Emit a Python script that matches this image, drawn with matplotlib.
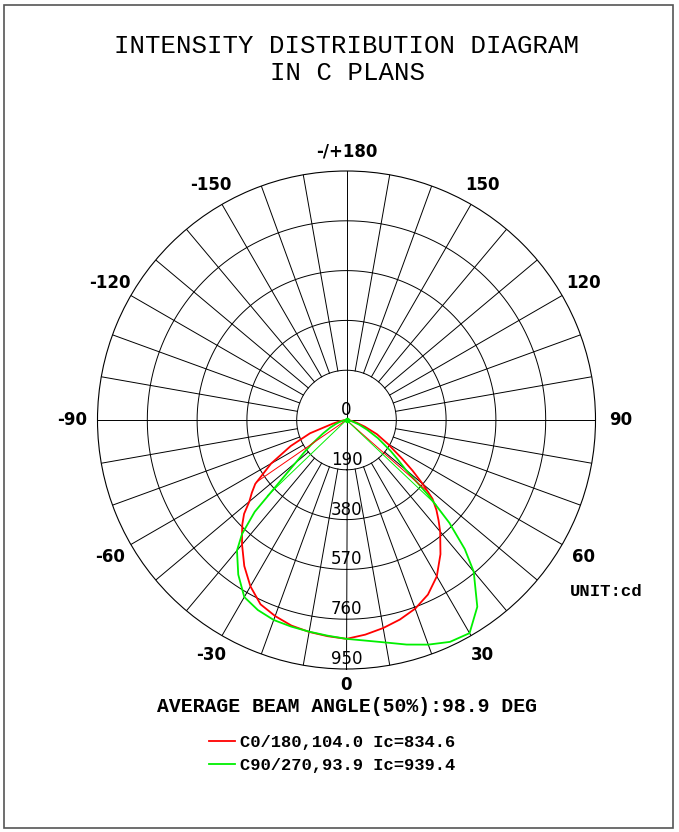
import numpy as np
import matplotlib.pyplot as plt
from matplotlib.patches import Rectangle

# gamma angle from nadir (deg), shared by all half planes
gamma = [0, 5, 10, 15, 20, 25, 30, 35, 40, 42.5, 45, 47.5, 50, 52.5, 55,
         60, 65, 70, 75, 80, 85, 90]

# luminous intensity, cd
c0 = [835, 822, 806, 788, 766, 735, 689, 625, 556, 520, 485, 445, 380, 318, 262,
      182, 128, 74, 40, 18, 6, 0]
c180 = [835, 828, 821, 812, 796, 776, 733, 680, 620, 590, 562, 530, 484, 455, 425,
        332, 235, 148, 55, 22, 8, 0]
c90 = [835, 845, 862, 887, 912, 934, 939, 870, 755, 668, 555, 420, 295, 245, 205,
       138, 85, 50, 25, 12, 4, 0]
c270 = [835, 826, 820, 816, 812, 800, 780, 720, 650, 590, 495, 335, 252, 205, 165,
        105, 68, 42, 24, 11, 4, 0]

ring_values = [190, 380, 570, 760, 950]
angle_ticks = [0, 30, 60, 90, 120, 150, 180, -150, -120, -90, -60, -30]
angle_labels = ["0", "30", "60", "90", "120", "150", "-/+180", "-150", "-120",
                "-90", "-60", "-30"]

legend_labels = ["C0/180,104.0 Ic=834.6", "C90/270,93.9 Ic=939.4"]
beam_text = "AVERAGE BEAM ANGLE(50%):98.9 DEG"

MONO = "Liberation Mono"
RED = "#ff0000"
GREEN = "#00f000"
rmax = ring_values[-1]

fig = plt.figure(figsize=(6.79, 8.32), dpi=100)
W, H = 679, 832
cx, cy, R = 346.5, 420, 249
ax = fig.add_axes([(cx - R) / W, (H - cy - R) / H, 2 * R / W, 2 * R / H],
                  projection="polar")
ax.set_theta_zero_location("S")
ax.set_theta_direction(1)
ax.set_ylim(0, rmax)
ax.set_xticks([])
ax.set_yticks([])
ax.grid(False)
ax.spines["polar"].set_linewidth(0.8)

# --- grid: rings and spokes ---
full = np.linspace(0, 2 * np.pi, 721)
for rv in ring_values[:-1]:
    ax.plot(full, np.full_like(full, rv), color="black", lw=0.7)
for a in range(0, 360, 10):
    t = np.radians(a)
    r0 = 0 if a % 90 == 0 else ring_values[0]
    ax.plot([t, t], [r0, rmax], color="black", lw=0.7)

# --- ring labels ---
for rv in ring_values:
    ax.text(0, rv - 38, str(rv), ha="center", va="center", fontsize=12)
ax.text(np.pi, 38, "0", ha="center", va="center", fontsize=12)

# --- angle labels ---
px = rmax / R
for a, lab in zip(angle_ticks, angle_labels):
    t = np.radians(a)
    rl = (268 + 6 * abs(np.sin(t)) - (3 if a == 0 else 0)) * px
    ax.text(t, rl, lab, ha="center", va="center", fontsize=12,
            fontweight="bold")

# --- intensity curves ---
g = np.radians(np.array(gamma))


def curve(right, left):
    th = np.concatenate([-g[::-1], g[1:]])
    rr = np.concatenate([np.array(left)[::-1], np.array(right)[1:]])
    return th, rr


def half_angle(vals):
    v = np.array(vals, dtype=float)
    i = int(np.argmax(v))
    return np.interp(v.max() / 2, v[i:][::-1], np.array(gamma)[i:][::-1])


th_r, r_r = curve(c0, c180)
th_g, r_g = curve(c90, c270)
l_red, = ax.plot(th_r, r_r, color=RED, lw=1.3)
l_green, = ax.plot(th_g, r_g, color=GREEN, lw=1.3)

# beam (50%) lines
for right, left, col in [(c0, c180, RED), (c90, c270, GREEN)]:
    for vals, sgn in [(right, 1), (left, -1)]:
        ha = half_angle(vals)
        rv = np.interp(ha, gamma, vals)
        ax.plot([0, sgn * np.radians(ha)], [0, rv], color=col, lw=0.7)
ax.plot([0], [0], "o", color=GREEN, ms=3)

# --- texts ---
fig.text(347 / W, 1 - 46 / H, "INTENSITY DISTRIBUTION DIAGRAM", ha="center",
         va="center", fontsize=18.5, family=MONO)
fig.text(347 / W, 1 - 73 / H, "IN C PLANS", ha="center", va="center",
         fontsize=18.5, family=MONO)
fig.text(347 / W, 1 - 706 / H, beam_text, ha="center", va="center",
         fontsize=14.2, family=MONO, fontweight="bold")
fig.text(570 / W, 1 - 591 / H, "UNIT:cd", ha="left", va="center",
         fontsize=12.4, family=MONO, fontweight="bold")

leg = ax.legend([l_red, l_green], legend_labels, loc="upper left",
                bbox_to_anchor=(209 / W, 1 - 735 / H),
                bbox_transform=fig.transFigure, frameon=False,
                prop={"family": MONO, "weight": "bold", "size": 12.3},
                handlelength=1.52, handletextpad=0.3, borderpad=0,
                borderaxespad=0, labelspacing=0.46)

fig.patches.append(Rectangle((3.5 / W, 4 / H), (673 - 3.5) / W, (828 - 5) / H,
                             transform=fig.transFigure, fill=False,
                             edgecolor="#555555", lw=1.2))

fig.savefig("out.png", dpi=100)
